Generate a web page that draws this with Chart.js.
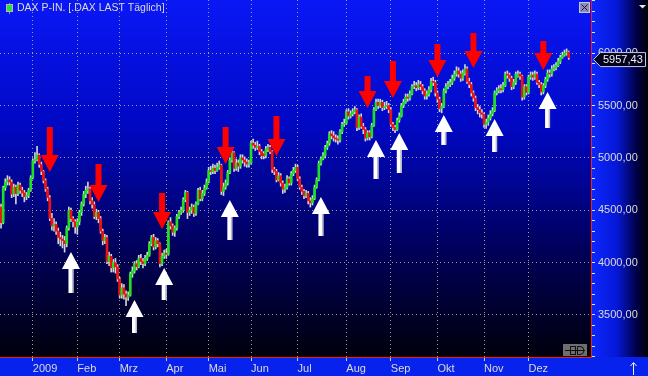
<!DOCTYPE html>
<html>
<head>
<meta charset="utf-8">
<script src="https://cdn.jsdelivr.net/npm/chart.js@4.4.1/dist/chart.umd.min.js"></script>
<style>
    html, body { margin: 0; padding: 0; background: #000; }
    canvas { display: block; }
</style>
</head>
<body>
<canvas id="chart" width="648" height="376"></canvas>
<script>
(function () {
    'use strict';

    var title = "DAX P-IN. [.DAX LAST Täglich]";

    // month tick labels, sessions per month (Dec 2008 tail first)
    var monthLabels = ["2009", "Feb", "Mrz", "Apr", "Mai", "Jun", "Jul", "Aug", "Sep", "Okt", "Nov", "Dez"];
    var daysBefore = 15;
    var monthDays = [21, 20, 22, 20, 20, 22, 23, 21, 22, 22, 21, 20];
    var emptySlots = 10;

    var opens = [
        4530, 4381, 4715, 4770, 4790, 4770, 4655, 4720, 4660, 4740, 4690, 4665, 4630, 4640, 4690,
        4810, 4973, 4984, 5026, 4937, 4870, 4784, 4705, 4620, 4423, 4350, 4365, 4300, 4240, 4225, 4210, 4180, 4330, 4500, 4420, 4390,
        4340, 4390, 4480, 4560, 4650, 4690, 4705, 4590, 4555, 4440, 4480, 4420, 4300, 4210, 4240, 4010, 4060, 3950, 4000, 3960,
        3844, 3690, 3760, 3700, 3670, 3690, 3890, 3920, 3990, 3960, 4040, 4010, 3990, 4040, 4070, 4180, 4240, 4150, 4210, 4180, 3990, 4060,
        4090, 4080, 4390, 4350, 4290, 4330, 4440, 4480, 4500, 4600, 4670, 4480, 4500, 4530, 4470, 4560, 4690, 4610, 4660, 4710,
        4770, 4880, 4870, 4900, 4880, 4910, 4930, 4680, 4720, 4760, 4860, 4980, 5050, 4900, 4950, 4920, 5000, 4980, 4960, 4940,
        4950, 5140, 5120, 5100, 5110, 5060, 5040, 5020, 5080, 5100, 5060, 4890, 4870, 4790, 4830, 4760, 4700, 4720, 4800, 4760, 4850, 4880,
        4910, 4800, 4720, 4680, 4640, 4660, 4590, 4570, 4610, 4720, 4790, 4950, 4990, 5020, 5100, 5140, 5230, 5210, 5190, 5180, 5170, 5250, 5320,
        5330, 5440, 5400, 5420, 5440, 5460, 5290, 5390, 5300, 5270, 5190, 5240, 5200, 5310, 5460, 5530, 5500, 5530, 5480, 5490, 5500,
        5460, 5320, 5290, 5270, 5360, 5400, 5500, 5530, 5580, 5570, 5610, 5680, 5690, 5670, 5700, 5680, 5640, 5590, 5610, 5650, 5730, 5720,
        5620, 5560, 5470, 5490, 5640, 5680, 5700, 5720, 5760, 5800, 5830, 5800, 5760, 5810, 5850, 5730, 5700, 5620, 5570, 5480, 5460, 5430,
        5415, 5320, 5340, 5380, 5420, 5450, 5620, 5640, 5660, 5650, 5690, 5800, 5790, 5760, 5680, 5720, 5780, 5800, 5780, 5580, 5680,
        5625, 5770, 5790, 5770, 5800, 5720, 5700, 5630, 5690, 5750, 5810, 5800, 5850, 5860, 5880, 5920, 5960, 5980, 6000, 6010
    ];

    var highs = [
        4560, 4730, 4800, 4830, 4820, 4790, 4750, 4740, 4770, 4760, 4720, 4690, 4670, 4710, 4830,
        4990, 5050, 5110, 5040, 4960, 4880, 4800, 4720, 4640, 4470, 4420, 4390, 4330, 4290, 4260, 4250, 4350, 4530, 4520, 4440, 4410,
        4420, 4500, 4580, 4680, 4730, 4770, 4720, 4620, 4580, 4510, 4500, 4440, 4320, 4270, 4260, 4100, 4080, 4030, 4040, 3980,
        3860, 3800, 3790, 3730, 3720, 3910, 3960, 4010, 4020, 4070, 4080, 4040, 4070, 4100, 4200, 4260, 4270, 4240, 4230, 4190, 4090, 4120,
        4130, 4400, 4430, 4370, 4350, 4460, 4500, 4530, 4620, 4690, 4680, 4530, 4560, 4550, 4580, 4710, 4720, 4690, 4740, 4800,
        4910, 4920, 4940, 4930, 4950, 4970, 4940, 4760, 4790, 4880, 5000, 5070, 5060, 4990, 4980, 5030, 5030, 5010, 4990, 4980,
        5160, 5180, 5150, 5160, 5130, 5080, 5060, 5110, 5130, 5120, 5070, 4910, 4890, 4860, 4850, 4780, 4750, 4830, 4820, 4870, 4910, 4940,
        4930, 4820, 4740, 4700, 4690, 4680, 4620, 4640, 4740, 4810, 4970, 5010, 5050, 5120, 5160, 5250, 5260, 5250, 5220, 5210, 5270, 5340, 5370,
        5460, 5470, 5450, 5470, 5490, 5470, 5410, 5420, 5330, 5290, 5260, 5260, 5330, 5480, 5560, 5560, 5560, 5550, 5530, 5540, 5520,
        5480, 5340, 5310, 5380, 5430, 5520, 5560, 5610, 5610, 5640, 5700, 5730, 5720, 5740, 5730, 5700, 5660, 5640, 5680, 5760, 5770, 5740,
        5640, 5580, 5520, 5660, 5710, 5730, 5750, 5790, 5830, 5870, 5860, 5830, 5840, 5890, 5870, 5760, 5720, 5640, 5590, 5510, 5490, 5460,
        5430, 5370, 5410, 5450, 5480, 5640, 5670, 5690, 5700, 5720, 5820, 5830, 5810, 5780, 5750, 5820, 5830, 5820, 5790, 5700, 5700,
        5790, 5820, 5820, 5830, 5820, 5740, 5720, 5710, 5770, 5840, 5840, 5880, 5890, 5910, 5950, 5980, 6010, 6030, 6040, 6020
    ];

    var lows = [
        4330, 4370, 4690, 4740, 4740, 4620, 4630, 4560, 4640, 4660, 4630, 4580, 4600, 4620, 4680,
        4800, 4950, 4970, 4910, 4840, 4760, 4680, 4590, 4400, 4310, 4300, 4270, 4180, 4160, 4140, 4100, 4150, 4310, 4390, 4340, 4280,
        4270, 4360, 4450, 4540, 4620, 4660, 4560, 4520, 4420, 4410, 4380, 4280, 4170, 4180, 3990, 3970, 3910, 3910, 3900, 3820,
        3660, 3660, 3650, 3590, 3640, 3680, 3860, 3900, 3930, 3950, 3980, 3950, 3970, 4020, 4060, 4160, 4120, 4130, 4150, 3960, 3970, 4040,
        4040, 4070, 4320, 4260, 4250, 4310, 4420, 4460, 4480, 4580, 4420, 4450, 4470, 4440, 4450, 4550, 4590, 4590, 4640, 4700,
        4760, 4840, 4850, 4850, 4870, 4890, 4650, 4640, 4700, 4740, 4850, 4960, 4870, 4880, 4870, 4900, 4950, 4920, 4910, 4910,
        4940, 5090, 5070, 5080, 5030, 4990, 4990, 5000, 5060, 5040, 4860, 4840, 4770, 4780, 4730, 4660, 4670, 4700, 4740, 4740, 4830, 4860,
        4780, 4700, 4650, 4610, 4620, 4560, 4530, 4550, 4600, 4710, 4780, 4930, 4980, 5000, 5080, 5120, 5180, 5160, 5150, 5130, 5150, 5230, 5300,
        5320, 5370, 5380, 5400, 5420, 5260, 5270, 5280, 5230, 5160, 5170, 5170, 5190, 5300, 5450, 5470, 5480, 5450, 5460, 5470, 5430,
        5300, 5260, 5240, 5260, 5340, 5390, 5480, 5520, 5540, 5550, 5600, 5660, 5640, 5650, 5650, 5610, 5560, 5560, 5590, 5630, 5690, 5590,
        5530, 5440, 5430, 5480, 5620, 5660, 5680, 5700, 5740, 5780, 5770, 5730, 5740, 5790, 5710, 5670, 5590, 5540, 5450, 5420, 5390, 5380,
        5290, 5280, 5310, 5360, 5400, 5440, 5600, 5620, 5620, 5630, 5680, 5760, 5730, 5650, 5660, 5700, 5770, 5750, 5550, 5560, 5600,
        5610, 5750, 5740, 5750, 5700, 5670, 5600, 5610, 5670, 5730, 5770, 5780, 5830, 5840, 5870, 5900, 5950, 5970, 5980, 5940
    ];

    var closes = [
        4381, 4715, 4770, 4790, 4770, 4655, 4720, 4660, 4740, 4690, 4665, 4630, 4640, 4690, 4810,
        4973, 4984, 5026, 4937, 4870, 4784, 4705, 4620, 4423, 4350, 4365, 4300, 4240, 4225, 4210, 4180, 4330, 4500, 4420, 4390, 4340,
        4390, 4480, 4560, 4650, 4690, 4705, 4590, 4555, 4440, 4480, 4420, 4300, 4210, 4240, 4010, 4060, 3950, 4000, 3960, 3844,
        3690, 3760, 3700, 3670, 3690, 3890, 3920, 3990, 3960, 4040, 4010, 3990, 4040, 4070, 4180, 4240, 4150, 4210, 4180, 3990, 4060, 4090,
        4080, 4390, 4350, 4290, 4330, 4440, 4480, 4500, 4600, 4670, 4480, 4500, 4530, 4470, 4560, 4690, 4610, 4660, 4710, 4770,
        4880, 4870, 4900, 4880, 4910, 4930, 4680, 4720, 4760, 4860, 4980, 5050, 4900, 4950, 4920, 5000, 4980, 4960, 4940, 4950,
        5140, 5120, 5100, 5110, 5060, 5020, 5020, 5080, 5100, 5060, 4890, 4870, 4790, 4830, 4760, 4700, 4720, 4800, 4760, 4850, 4880, 4910,
        4800, 4720, 4680, 4640, 4660, 4590, 4570, 4610, 4720, 4790, 4950, 4990, 5020, 5100, 5140, 5230, 5210, 5190, 5180, 5170, 5250, 5320, 5330,
        5440, 5400, 5420, 5440, 5460, 5290, 5390, 5300, 5270, 5190, 5240, 5200, 5310, 5460, 5530, 5500, 5530, 5480, 5490, 5500, 5460,
        5320, 5290, 5270, 5360, 5400, 5500, 5530, 5580, 5570, 5610, 5680, 5690, 5670, 5700, 5680, 5640, 5590, 5610, 5650, 5730, 5720, 5620,
        5560, 5470, 5490, 5640, 5680, 5700, 5720, 5760, 5800, 5830, 5800, 5760, 5810, 5850, 5730, 5700, 5620, 5570, 5480, 5460, 5430, 5415,
        5320, 5340, 5380, 5420, 5450, 5620, 5640, 5660, 5650, 5690, 5800, 5790, 5760, 5680, 5720, 5800, 5800, 5780, 5580, 5680, 5625,
        5770, 5790, 5770, 5800, 5720, 5700, 5630, 5690, 5750, 5810, 5800, 5850, 5860, 5880, 5920, 5960, 5980, 6000, 6010, 5957.43
    ];

    // signal arrows: session index, price at the tip, price at the tail
    var downIdx = [23, 46, 76, 106, 130, 173, 185, 206, 223, 256];
    var downTip = [4865, 4579, 4321, 4942, 5018, 5476, 5572, 5772, 5858, 5839];
    var downTail = [5295, 4942, 4665, 5295, 5400, 5782, 5925, 6087, 6192, 6116];
    var upIdx = [33, 63, 77, 108, 151, 177, 188, 209, 233, 258];
    var upTip = [4102, 3643, 3949, 4598, 4627, 5171, 5238, 5410, 5371, 5629];
    var upTail = [3710, 3328, 3643, 4216, 4255, 4799, 4856, 5123, 5056, 5285];

    var yMin = 3099,
        yMax = 6507,
        yStep = 100,
        yMajor = 500,
        yTopLabel = 6000;

    var font = "'Liberation Sans', Arial, sans-serif",
        textColor = "#dcdcd4",
        dotColor = "rgba(190, 190, 140, 0.85)",
        green = "#1ee01e",
        red = "#f01010";

    function fmt (v) {
        return v.toFixed(2).replace(".", ",");
    }

    var labels = [], i, m, d;
    for (i = 0; i < daysBefore; i++) {
        labels.push("");
    }
    for (m = 0; m < monthDays.length; m++) {
        for (d = 0; d < monthDays[m]; d++) {
            labels.push(d === 0 ? monthLabels[m] : "");
        }
    }
    for (i = 0; i < emptySlots; i++) {
        labels.push("");
    }

    var bodies = [], wicks = [];
    for (i = 0; i < labels.length; i++) {
        if (i < closes.length) {
            bodies.push([opens[i], closes[i]]);
            wicks.push([lows[i], highs[i]]);
        } else {
            bodies.push(null);
            wicks.push(null);
        }
    }

    var background = {
        id: "background",
        beforeDraw: function (chart) {
            var ctx = chart.ctx,
                area = chart.chartArea,
                w = chart.width,
                h = chart.height,
                g;

            ctx.save();
            g = ctx.createLinearGradient(0, area.top, 0, area.bottom);
            g.addColorStop(0, "rgb(10, 24, 246)");
            g.addColorStop(0.35, "rgb(0, 8, 196)");
            g.addColorStop(0.7, "rgb(0, 0, 90)");
            g.addColorStop(1, "rgb(0, 0, 12)");
            ctx.fillStyle = g;
            ctx.fillRect(0, 0, area.right, area.bottom);

            g = ctx.createLinearGradient(area.right, 0, w, 0);
            g.addColorStop(0, "rgb(12, 40, 255)");
            g.addColorStop(0.45, "rgb(6, 24, 215)");
            g.addColorStop(0.8, "rgb(0, 0, 70)");
            g.addColorStop(1, "rgb(0, 0, 8)");
            ctx.fillStyle = g;
            ctx.fillRect(area.right, 0, w - area.right, area.bottom);

            ctx.fillStyle = "rgb(8, 34, 238)";
            ctx.fillRect(0, area.bottom, w, h - area.bottom);
            ctx.restore();
        }
    };

    function drawArrow (ctx, x, yTip, yTail, down, shaft) {
        var head = 17, half = 9, s = down ? -1 : 1,
            base = yTip + s * head;

        ctx.beginPath();
        ctx.moveTo(x - shaft, yTail);
        ctx.lineTo(x + shaft, yTail);
        ctx.lineTo(x + shaft, base);
        ctx.lineTo(x + half, base);
        ctx.lineTo(x, yTip);
        ctx.lineTo(x - half, base);
        ctx.lineTo(x - shaft, base);
        ctx.closePath();
        ctx.fill();
    }

    var arrows = {
        id: "arrows",
        afterDatasetsDraw: function (chart) {
            var ctx = chart.ctx,
                xs = chart.scales.x,
                ys = chart.scales.y,
                k, x;

            ctx.save();
            ctx.fillStyle = "#ff0000";
            for (k = 0; k < downIdx.length; k++) {
                x = xs.getPixelForValue(downIdx[k]);
                drawArrow(ctx, x, ys.getPixelForValue(downTip[k]), ys.getPixelForValue(downTail[k]), true, 3);
            }
            for (k = 0; k < upIdx.length; k++) {
                x = xs.getPixelForValue(upIdx[k]);
                ctx.fillStyle = "#ffffff";
                drawArrow(ctx, x, ys.getPixelForValue(upTip[k]), ys.getPixelForValue(upTail[k]), false, 2.5);
                ctx.fillStyle = "rgba(170, 170, 190, 0.8)";
                ctx.fillRect(x + 1, ys.getPixelForValue(upTip[k]) + 17, 1.5,
                    ys.getPixelForValue(upTail[k]) - ys.getPixelForValue(upTip[k]) - 17);
            }
            ctx.restore();
        }
    };

    var decor = {
        id: "decor",
        afterDraw: function (chart) {
            var ctx = chart.ctx,
                area = chart.chartArea,
                ys = chart.scales.y,
                last = closes[closes.length - 1],
                py = ys.getPixelForValue(last) + 2,
                w = chart.width,
                h = chart.height;

            ctx.save();

            // title with small candle icon
            ctx.fillStyle = "#9a9a9a";
            ctx.fillRect(9, 3, 1, 11);
            ctx.fillStyle = "#30e030";
            ctx.fillRect(7, 5, 5, 6);
            ctx.strokeStyle = "#b8b8b8";
            ctx.lineWidth = 1;
            ctx.strokeRect(6.5, 4.5, 6, 7);
            ctx.font = "10.5px " + font;
            ctx.fillStyle = textColor;
            ctx.textBaseline = "middle";
            ctx.textAlign = "left";
            ctx.fillText(title, 17, 8.5);

            // close box
            ctx.fillStyle = "#8c8cb4";
            ctx.fillRect(579, 2, 11, 11);
            ctx.strokeStyle = "#c4c4dc";
            ctx.strokeRect(579.5, 2.5, 10, 10);
            ctx.strokeStyle = "#1c1c3c";
            ctx.beginPath();
            ctx.moveTo(581.5, 4.5);
            ctx.lineTo(587.5, 10.5);
            ctx.moveTo(587.5, 4.5);
            ctx.lineTo(581.5, 10.5);
            ctx.stroke();

            // small triangle top right
            ctx.fillStyle = "#e8e8e8";
            ctx.beginPath();
            ctx.moveTo(639, 5);
            ctx.lineTo(646, 5);
            ctx.lineTo(642.5, 8.5);
            ctx.closePath();
            ctx.fill();

            // last value badge
            ctx.beginPath();
            ctx.moveTo(area.right + 2.5, py);
            ctx.lineTo(area.right + 9.5, py - 7);
            ctx.lineTo(w - 2.5, py - 7);
            ctx.lineTo(w - 2.5, py + 7);
            ctx.lineTo(area.right + 9.5, py + 7);
            ctx.closePath();
            ctx.fillStyle = "#02021e";
            ctx.fill();
            ctx.strokeStyle = "#c8c8dc";
            ctx.stroke();
            ctx.fillStyle = "#f0f0f0";
            ctx.font = "11px " + font;
            ctx.fillText(fmt(last), area.right + 12, py + 0.5);

            // legend toggle box bottom right of plot
            ctx.fillStyle = "#6e6e6e";
            ctx.fillRect(563, 344, 24, 12);
            ctx.strokeStyle = "#101010";
            ctx.beginPath();
            ctx.moveTo(565, 350.5);
            ctx.lineTo(585, 350.5);
            ctx.stroke();
            ctx.strokeRect(570.5, 346.5, 5, 8);
            ctx.beginPath();
            ctx.moveTo(577.5, 346.5);
            ctx.lineTo(580, 346.5);
            ctx.arc(580, 350.5, 4, -Math.PI / 2, Math.PI / 2);
            ctx.lineTo(577.5, 354.5);
            ctx.closePath();
            ctx.stroke();

            // arrow bottom right
            ctx.strokeStyle = "#f0f0f0";
            ctx.beginPath();
            ctx.moveTo(633.5, h - 1);
            ctx.lineTo(633.5, h - 13);
            ctx.moveTo(630.5, h - 10);
            ctx.lineTo(633.5, h - 13.5);
            ctx.lineTo(636.5, h - 10);
            ctx.stroke();

            ctx.restore();
        }
    };

    new Chart(document.getElementById("chart"), {
        type: "bar",
        data: {
            labels: labels,
            datasets: [{
                data: bodies,
                grouped: false,
                barThickness: 2,
                minBarLength: 1,
                borderWidth: 0,
                backgroundColor: function (c) {
                    var k = c.dataIndex;
                    return closes[k] >= opens[k] ? green : red;
                }
            }, {
                data: wicks,
                grouped: false,
                barThickness: 1,
                borderWidth: 0,
                backgroundColor: "#d4d4d4"
            }]
        },
        options: {
            responsive: false,
            animation: false,
            devicePixelRatio: 1,
            layout: { padding: 0 },
            plugins: {
                legend: { display: false },
                tooltip: { enabled: false }
            },
            scales: {
                x: {
                    type: "category",
                    offset: true,
                    grid: {
                        offset: false,
                        tickLength: 4,
                        color: function (c) {
                            return c.tick && c.tick.label ? dotColor : "rgba(0,0,0,0)";
                        },
                        tickColor: function (c) {
                            return c.tick && c.tick.label ? "#d0d0d0" : "rgba(0,0,0,0)";
                        }
                    },
                    border: { color: "#ff1818", width: 1, dash: [1, 3] },
                    ticks: {
                        autoSkip: false,
                        maxRotation: 0,
                        minRotation: 0,
                        align: "start",
                        padding: 1,
                        color: textColor,
                        font: { family: font, size: 11 },
                        callback: function (v, k) {
                            return labels[k];
                        }
                    },
                    afterFit: function (scale) {
                        scale.height = 19;
                        scale.paddingLeft = 0;
                        scale.paddingRight = 0;
                    }
                },
                y: {
                    type: "linear",
                    position: "right",
                    min: yMin,
                    max: yMax,
                    afterBuildTicks: function (scale) {
                        var t = [], v;
                        for (v = Math.ceil(yMin / yStep) * yStep; v <= yMax; v += yStep) {
                            t.push({ value: v });
                        }
                        scale.ticks = t;
                    },
                    grid: {
                        tickLength: 4,
                        color: function (c) {
                            var v = c.tick ? c.tick.value : 0;
                            return v % yMajor === 0 && v <= yTopLabel ? dotColor : "rgba(0,0,0,0)";
                        },
                        tickColor: "#e4e4e4"
                    },
                    border: { color: "#ff1818", width: 1, dash: [1, 3] },
                    ticks: {
                        autoSkip: false,
                        padding: 3,
                        color: textColor,
                        font: { family: font, size: 11 },
                        callback: function (v) {
                            return v % yMajor === 0 && v <= yTopLabel ? fmt(v) : "";
                        }
                    },
                    afterFit: function (scale) {
                        scale.width = 57;
                        scale.paddingTop = 0;
                        scale.paddingBottom = 0;
                    }
                }
            }
        },
        plugins: [background, arrows, decor]
    });
}());
</script>
</body>
</html>
